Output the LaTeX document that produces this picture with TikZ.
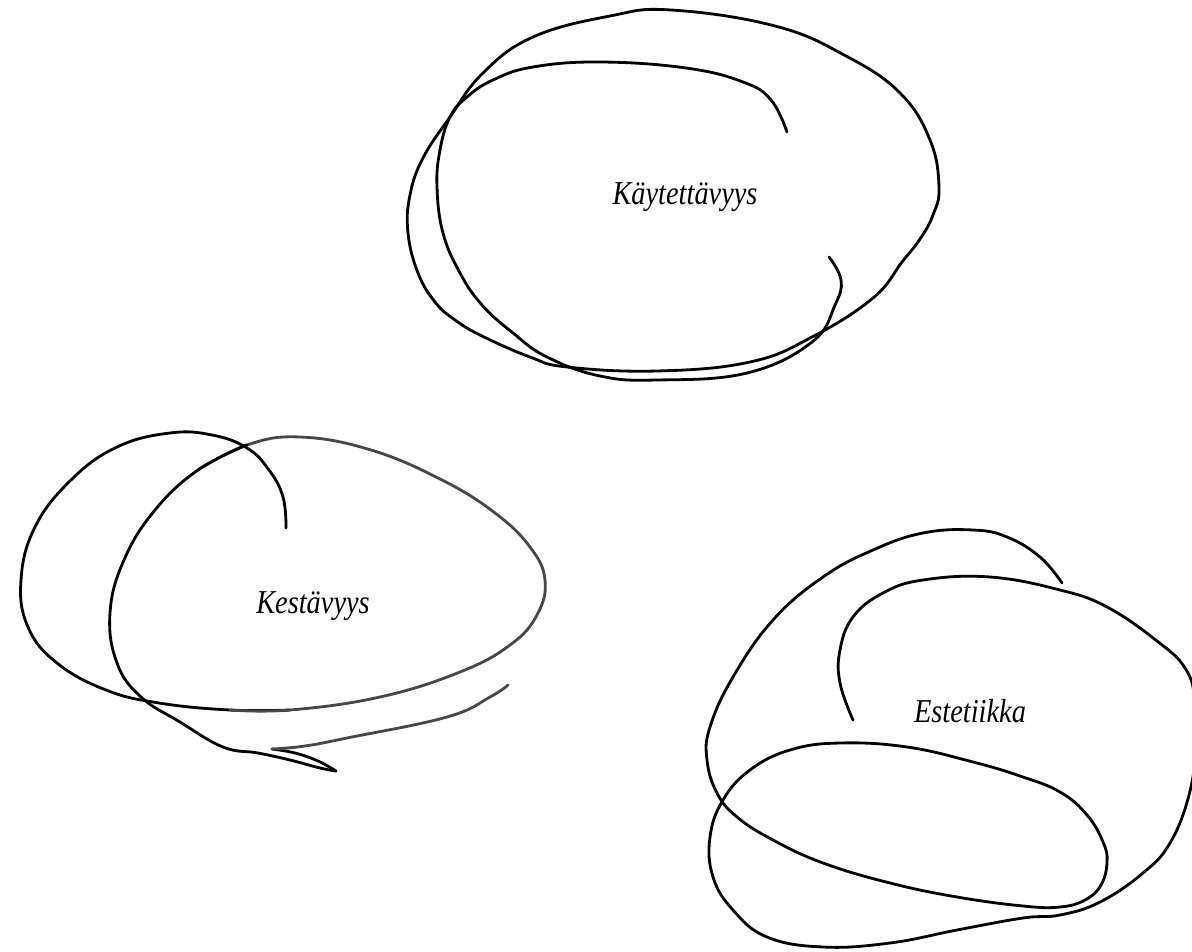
\documentclass[tikz,border=0pt]{standalone}
\usepackage{fontspec}
\setmainfont{Liberation Serif}[FakeStretch=0.85]
\begin{document}
\begin{tikzpicture}[x=0.02cm,y=-0.02cm,
  pen/.style={line width=1.6pt,line cap=round,line join=round,black},
  softpen/.style={pen,black!72},
  lbl/.style={anchor=base,inner sep=0pt,font=\itshape\fontsize{19}{22}\selectfont}]
\useasboundingbox (0,0) rectangle (1192,952);
% --- Kaytettavyys scribble
\draw[pen] plot[smooth cycle,tension=0.7] coordinates {(567,367) (530,357) (482,336) (455,320) (435,302) (418,273) (408,233) (410,195) (423,158) (450,117) (483,73) (533,37) (610,16) (671,10) (775,26) (846,56) (900,93) (930,140) (939,187) (933,215) (920,239) (902,262) (873,298) (812,337) (750,362) (657,371)};
\draw[pen] plot[smooth,tension=0.7] coordinates {(787,132) (771,100) (743,82) (686,68) (600,62) (533,67) (493,80) (467,97) (450,117) (440,150) (437,187) (443,233) (460,273) (482,305) (513,333) (547,357) (600,376) (657,380) (747,373) (812,342) (835,305) (841,280) (829,257)};
\node[lbl] (kay) at (685,205) {Käytettävyys};
% --- Kestavyys scribble
\draw[pen] plot[smooth,tension=0.7] coordinates {(286,528) (283,497) (269,470) (247,448) (212,435) (170,433) (117,447) (71,480) (35,527) (21,580) (28,627) (57,663) (106,690) (159,703) (230,710) (290,710)};
\draw[softpen] plot[smooth,tension=0.7] coordinates {(230,710) (290,710) (380,697) (460,672) (510,645) (537,615) (545,580) (530,547) (495,513) (442,480) (371,450) (300,437) (247,445) (198,470)};
\draw[pen] plot[smooth,tension=0.7] coordinates {(247,445) (198,470) (155,510) (124,560) (110,613) (117,663) (141,697) (180,722) (223,747) (258,753) (290,760) (320,768) (336,771)};
\draw[pen] plot[smooth,tension=0.7] coordinates {(336,771) (318,761) (295,753) (272,749)};
\draw[softpen] plot[smooth,tension=0.7] coordinates {(272,749) (305,746) (347,738) (447,717) (490,697) (508,685)};
\node[lbl] (kes) at (313,613) {Kestävyys};
% --- Estetiikka scribble
\draw[pen] plot[smooth,tension=0.7] coordinates {(1062,583) (1040,557) (1007,537) (973,530) (923,533) (873,550) (823,577) (773,620) (733,677) (710,727) (707,760) (717,793) (737,817) (773,840) (823,863) (890,883) (957,897) (1023,906) (1060,907) (1085,900) (1101,885) (1107,862) (1103,842) (1087,815) (1060,792) (1020,776) (973,762) (907,747) (840,743) (790,750) (750,770) (723,800) (710,837) (713,877) (733,910) (767,937) (823,947) (890,943) (957,930) (1023,918) (1060,915) (1100,902) (1143,873) (1170,843) (1189,795) (1196,745) (1195,700) (1185,668) (1157,641) (1107,607) (1060,590) (990,577) (923,580) (883,593) (853,617) (840,650) (840,683) (853,720)};
\node[lbl] (est) at (970,722) {Estetiikka};
\end{tikzpicture}
\end{document}
